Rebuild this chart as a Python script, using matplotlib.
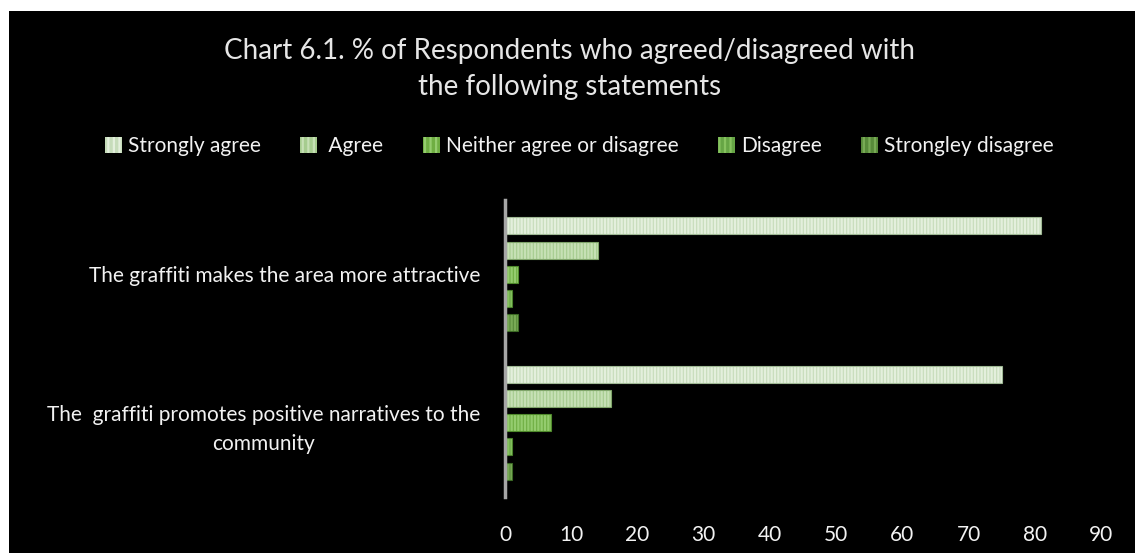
import numpy as np
import matplotlib.pyplot as plt
from matplotlib.patches import Patch, Rectangle

statements = ['The graffiti makes the area more attractive',
              'The  graffiti promotes positive narratives to the\ncommunity']
responses = ['Strongly agree', ' Agree', 'Neither agree or disagree', 'Disagree', 'Strongley disagree']
strongly_agree = [81, 75]
agree = [14, 16]
neither = [2, 7]
disagree = [1, 1]
strongly_disagree = [2, 1]
values = [strongly_agree, agree, neither, disagree, strongly_disagree]

base_colors = ['#c6dcba', '#a6cc8f', '#6fae43', '#66a545', '#588a3a']
stripe_colors = ['#e3efdc', '#c6e0b5', '#94cc6e', '#86c25f', '#78aa55']
edge_colors = ['#9fb894', '#7fa46a', '#4f8a2c', '#4a822c', '#3c6a25']

plt.rcParams['font.family'] = ['Lato', 'DejaVu Sans']
plt.rcParams['hatch.linewidth'] = 1.6

fig = plt.figure(figsize=(11.39, 5.53), dpi=100)
fig.patch.set_facecolor('white')
fig.patches.append(Rectangle((9 / 1139, 0), 1126 / 1139, 1 - 11 / 553,
                             transform=fig.transFigure, facecolor='black',
                             edgecolor='none', zorder=-1))

ax = fig.add_axes([505 / 1139, 1 - 497 / 553, 596 / 1139, 297 / 553])
ax.patch.set_alpha(0)

y = np.arange(len(statements))
offsets = [-0.327, -0.163, 0.0, 0.163, 0.326]
h = 0.115
for i, vals in enumerate(values):
    ax.barh(y + offsets[i], vals, height=h, color=base_colors[i],
            edgecolor=stripe_colors[i], hatch='|||||', linewidth=0, zorder=2)
    ax.barh(y + offsets[i], vals, height=h, facecolor='none',
            edgecolor=edge_colors[i], linewidth=0.8, zorder=3)

ax.set_xlim(0, 90)
ax.set_ylim(1.5, -0.5)
ax.set_xticks(range(0, 91, 10))
ax.set_yticks(y)
ax.set_yticklabels(statements, fontsize=15, color='#f2f2f2',
                   multialignment='center', linespacing=1.55)
ax.tick_params(axis='x', length=0, labelsize=15, labelcolor='#f2f2f2', pad=20)
ax.tick_params(axis='y', length=0, pad=18)
for s in ['top', 'right', 'bottom']:
    ax.spines[s].set_visible(False)
ax.spines['left'].set_color('#a6a6a6')
ax.spines['left'].set_linewidth(2.5)
ax.spines['left'].set_zorder(4)

fig.text(0.5, 1 - 51 / 553, 'Chart 6.1. % of Respondents who agreed/disagreed with',
         ha='center', va='center', fontsize=20, color='#e6e6e6')
fig.text(0.5, 1 - 87 / 553, 'the following statements',
         ha='center', va='center', fontsize=20, color='#e6e6e6')

handles = [Patch(facecolor=base_colors[i], edgecolor=stripe_colors[i], hatch='|||',
                 linewidth=0) for i in range(len(responses))]
leg = fig.legend(handles, responses, loc='center',
                 bbox_to_anchor=(0.5 + 10 / 1139, 1 - 146 / 553),
                 ncol=5, frameon=False, fontsize=15, handlelength=0.8, handleheight=0.8,
                 handletextpad=0.3, columnspacing=1.9)
for t in leg.get_texts():
    t.set_color('#f2f2f2')

plt.savefig('out.png', dpi=100, facecolor=fig.get_facecolor())
